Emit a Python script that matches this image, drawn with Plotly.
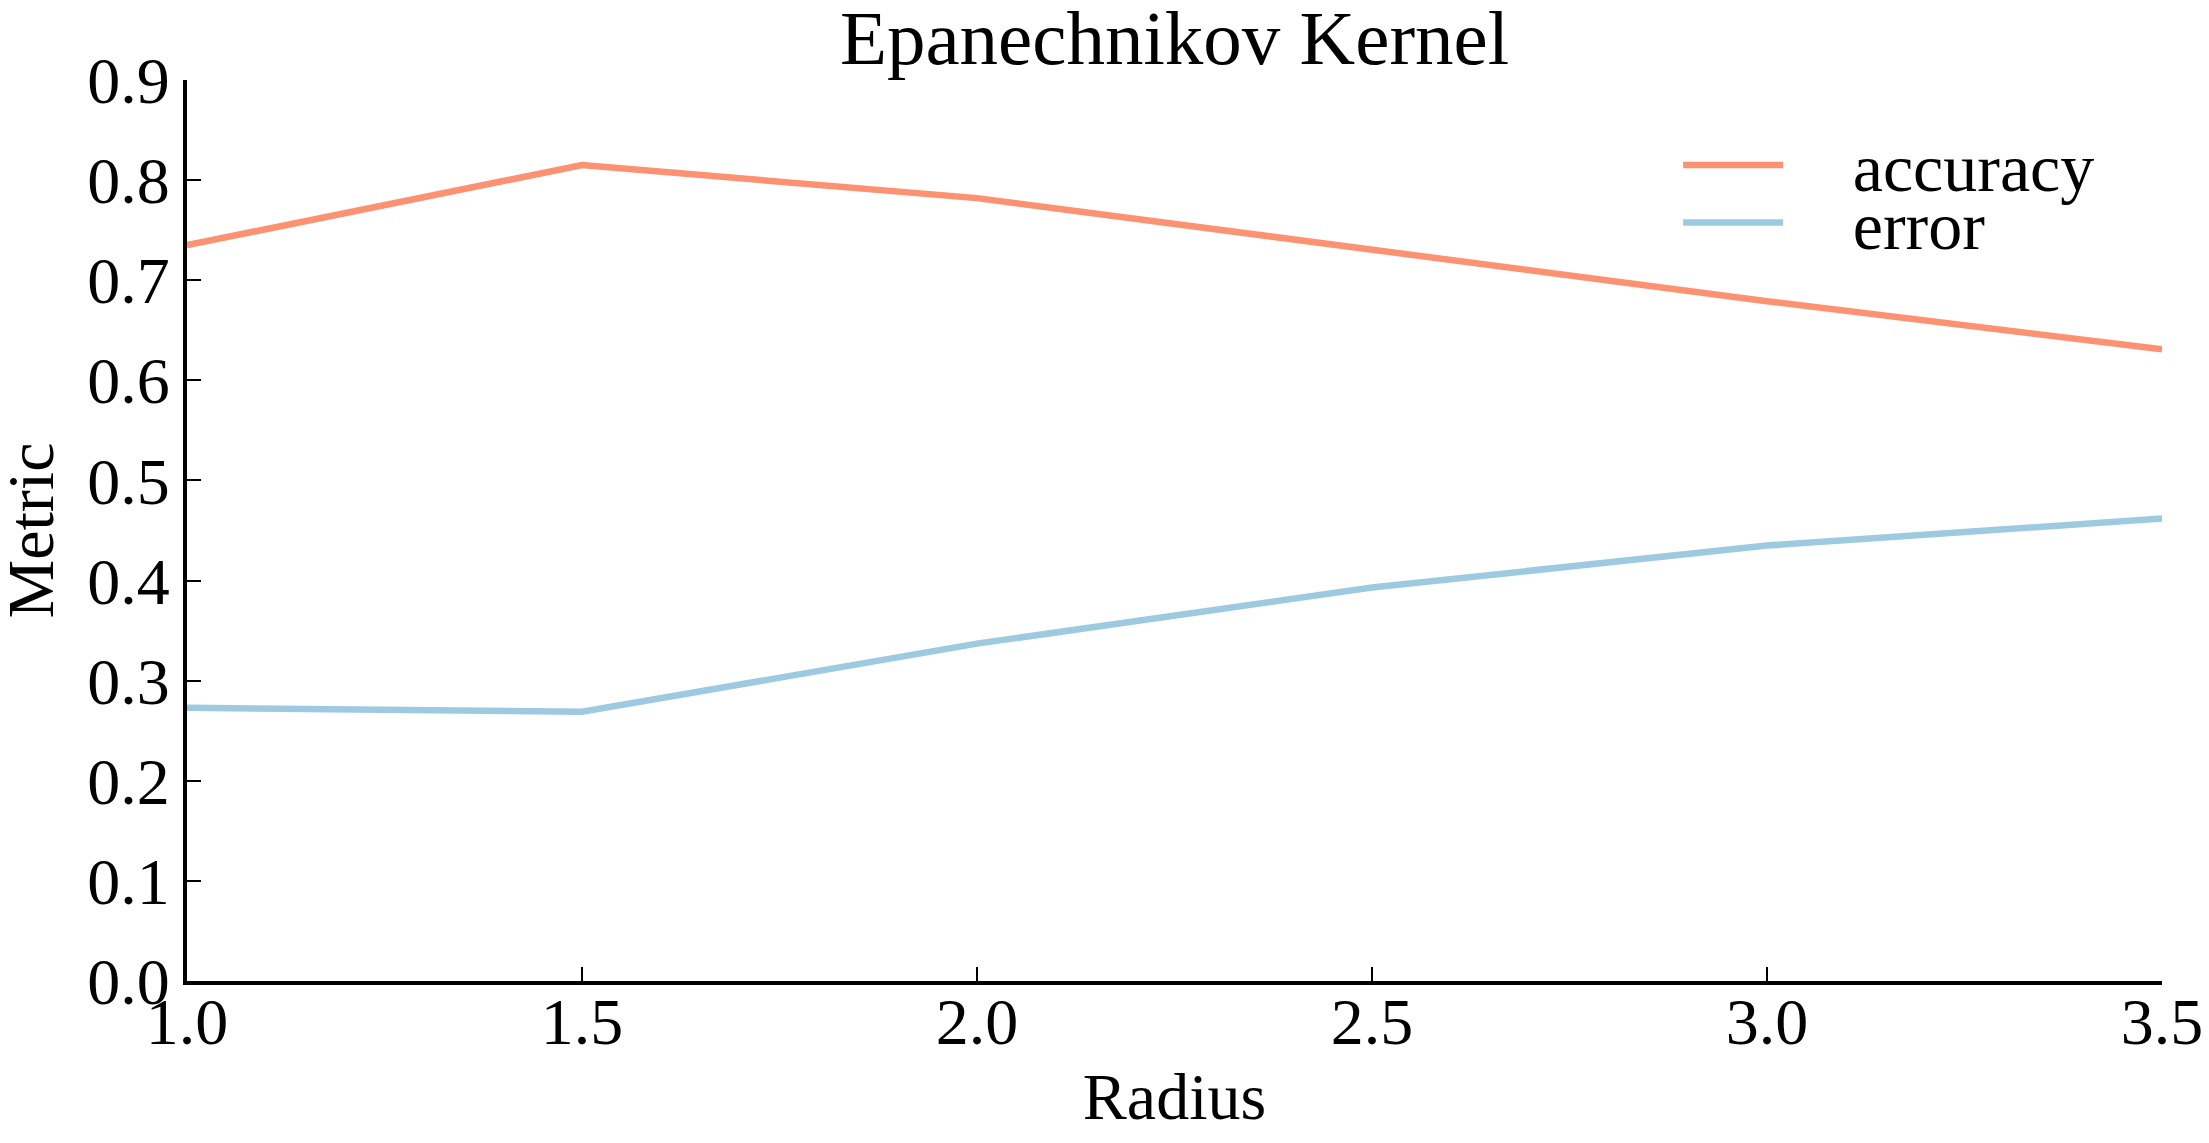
import plotly.graph_objects as go

radius = [1.0, 1.5, 2.0, 2.5, 3.0, 3.5]
accuracy = [0.735, 0.815, 0.782, 0.730, 0.679, 0.631]
error = [0.273, 0.269, 0.337, 0.393, 0.435, 0.462]
y_ticks = [0.0, 0.1, 0.2, 0.3, 0.4, 0.5, 0.6, 0.7, 0.8, 0.9]
x_ticks = [1.0, 1.5, 2.0, 2.5, 3.0, 3.5]
series_names = ["accuracy", "error"]

FONT = "Liberation Serif"
FS = 66
GAP = "\u00a0\u00a0\u00a0\u2009"

fig = go.Figure()
fig.add_trace(go.Scatter(x=radius, y=accuracy, mode="lines", name=GAP + series_names[0],
                         line=dict(color="#fc9272", width=6.5), legend="legend"))
fig.add_trace(go.Scatter(x=radius, y=error, mode="lines", name=GAP + series_names[1],
                         line=dict(color="#9ecae1", width=6.5), legend="legend2"))

leg_common = dict(xanchor="left", yanchor="top", bgcolor="rgba(0,0,0,0)", borderwidth=0,
                  font=dict(family=FONT, size=68), itemwidth=100)

fig.update_layout(
    width=2193, height=1127,
    margin=dict(l=179, r=39, t=72, b=154, autoexpand=False),
    plot_bgcolor="white", paper_bgcolor="white",
    font=dict(family=FONT, size=FS, color="black"),
    title=dict(text="Epanechnikov Kernel", x=0.5, xref="paper", xanchor="center",
               yref="container", y=0.998, yanchor="top", font=dict(family=FONT, size=77),
               automargin=False),
    showlegend=True,
    legend=dict(x=0.755, y=0.962, **leg_common),
    legend2=dict(x=0.755, y=0.898, **leg_common),
    annotations=[dict(text="Metric", textangle=-90, xref="paper", yref="paper",
                      x=-0.079, y=0.5, xanchor="center", yanchor="middle",
                      showarrow=False, font=dict(family=FONT, size=FS))],
)
fig.update_xaxes(
    range=[1.0, 3.5], tickvals=x_ticks, tickformat=".1f",
    showgrid=False, zeroline=False, showline=True, linecolor="black", linewidth=4,
    ticks="inside", ticklen=14, tickwidth=2, tickcolor="black",
    ticklabelstandoff=-20, automargin=False, ticklabeloverflow="allow",
    title=dict(text="Radius", font=dict(family=FONT, size=FS), standoff=17),
)
fig.update_yaxes(
    range=[0.0, 0.9], tickvals=y_ticks, tickformat=".1f",
    showgrid=False, zeroline=False, showline=True, linecolor="black", linewidth=4,
    ticks="inside", ticklen=14, tickwidth=2, tickcolor="black",
    automargin=False, ticklabeloverflow="allow",
)

fig.write_html("out.html")
